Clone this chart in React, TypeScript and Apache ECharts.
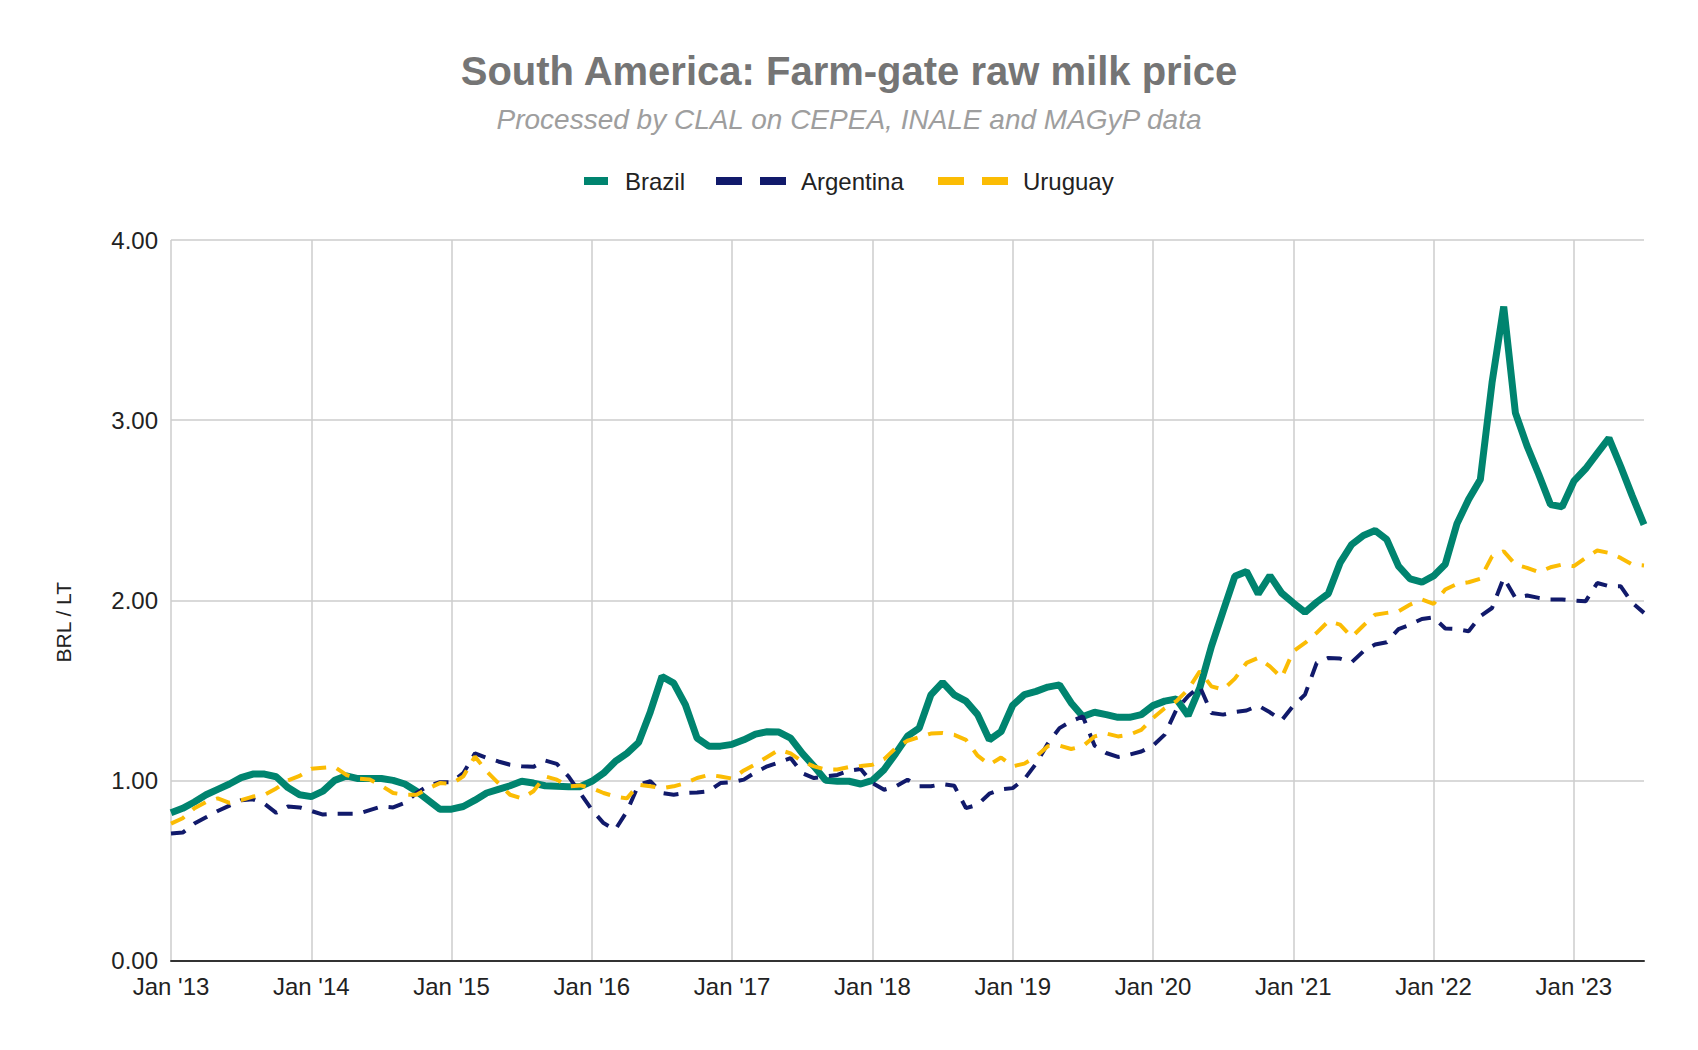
import React, { useEffect, useRef } from "react";
import * as echarts from "echarts";

const monthNames = ["Jan", "Feb", "Mar", "Apr", "May", "Jun", "Jul", "Aug", "Sep", "Oct", "Nov", "Dec"];
const yearLabels = ["13", "14", "15", "16", "17", "18", "19", "20", "21", "22", "23"];
const lastYearMonths = 7;

const categories: string[] = [];
yearLabels.forEach((y, yi) => {
  const n = yi === yearLabels.length - 1 ? lastYearMonths : 12;
  for (let m = 0; m < n; m++) categories.push(`${monthNames[m]} '${y}`);
});

const brazil = [
  0.82, 0.845, 0.88, 0.92, 0.95, 0.98, 1.015, 1.035, 1.035, 1.02, 0.96, 0.92,
  0.91, 0.94, 1.0, 1.025, 1.01, 1.01, 1.01, 1.0, 0.98, 0.94, 0.89, 0.84,
  0.84, 0.855, 0.89, 0.93, 0.95, 0.97, 0.995, 0.985, 0.97, 0.967, 0.965, 0.965,
  0.995, 1.04, 1.105, 1.15, 1.21, 1.38, 1.577, 1.54, 1.42, 1.235, 1.19, 1.19,
  1.2, 1.225, 1.257, 1.27, 1.268, 1.235, 1.15, 1.078, 1.0, 0.995, 0.995, 0.98,
  1.0, 1.06, 1.15, 1.245, 1.29, 1.475, 1.544, 1.475, 1.44, 1.365, 1.225, 1.27,
  1.417, 1.476, 1.494, 1.518, 1.53, 1.43, 1.355, 1.378, 1.365, 1.35, 1.35, 1.365,
  1.415, 1.44, 1.452, 1.36, 1.513, 1.744, 1.94, 2.133, 2.16, 2.035, 2.137, 2.04,
  1.985, 1.933, 1.989, 2.037, 2.207, 2.31, 2.36, 2.387, 2.337, 2.189, 2.118, 2.1,
  2.135, 2.2, 2.425, 2.56, 2.67, 3.207, 3.63, 3.04, 2.856, 2.698, 2.531, 2.519,
  2.661, 2.73, 2.815, 2.9, 2.744, 2.578, 2.42,
];

const argentina = [
  0.705, 0.71, 0.76, 0.795, 0.83, 0.86, 0.89, 0.895, 0.87, 0.82, 0.855, 0.85,
  0.83, 0.81, 0.815, 0.815, 0.815, 0.835, 0.855, 0.85, 0.875, 0.93, 0.97, 0.99,
  0.99, 1.04, 1.15, 1.125, 1.105, 1.087, 1.078, 1.075, 1.11, 1.092, 1.022, 0.93,
  0.837, 0.763, 0.726, 0.828, 0.976, 0.995, 0.93, 0.92, 0.93, 0.933, 0.94, 0.985,
  0.99, 1.004, 1.045, 1.078, 1.1, 1.124, 1.04, 1.013, 1.022, 1.03, 1.054, 1.063,
  0.985, 0.948, 0.967, 1.004, 0.967, 0.967, 0.98, 0.97, 0.846, 0.865, 0.926, 0.95,
  0.957, 1.007, 1.093, 1.204, 1.29, 1.328, 1.355, 1.193, 1.152, 1.13, 1.143, 1.16,
  1.193, 1.254, 1.393, 1.467, 1.522, 1.374, 1.365, 1.38, 1.388, 1.415, 1.378, 1.333,
  1.415, 1.476, 1.652, 1.68, 1.676, 1.656, 1.717, 1.754, 1.767, 1.84, 1.865, 1.896,
  1.905, 1.843, 1.84, 1.828, 1.911, 1.957, 2.124, 2.013, 2.026, 2.013, 2.004, 2.004,
  1.998, 1.994, 2.096, 2.078, 2.078, 1.985, 1.93,
];

const uruguay = [
  0.76, 0.79, 0.845, 0.88, 0.9, 0.875, 0.89, 0.91, 0.92, 0.955, 1.0, 1.025,
  1.065, 1.07, 1.075, 1.03, 1.01, 1.005, 0.97, 0.93, 0.92, 0.92, 0.955, 0.985,
  0.98, 1.022, 1.133, 1.05, 0.985, 0.92, 0.9, 0.94, 1.022, 1.004, 0.967, 0.972,
  0.957, 0.93, 0.91, 0.9, 0.976, 0.967, 0.957, 0.967, 0.985, 1.013, 1.03, 1.022,
  1.01, 1.055, 1.09, 1.13, 1.17, 1.15, 1.105, 1.078, 1.06, 1.06, 1.074, 1.08,
  1.087, 1.118, 1.18, 1.22, 1.24, 1.26, 1.263, 1.253, 1.225, 1.137, 1.087, 1.127,
  1.078, 1.093, 1.133, 1.19, 1.193, 1.174, 1.19, 1.244, 1.26, 1.244, 1.254, 1.28,
  1.346, 1.4, 1.44, 1.504, 1.606, 1.522, 1.504, 1.565, 1.652, 1.68, 1.633, 1.57,
  1.717, 1.763, 1.819, 1.883, 1.865, 1.796, 1.86, 1.92, 1.93, 1.939, 1.976, 2.004,
  1.98, 2.06, 2.09, 2.1, 2.119, 2.244, 2.272, 2.198, 2.18, 2.156, 2.183, 2.198,
  2.189, 2.235, 2.276, 2.263, 2.235, 2.198, 2.193,
];

const seriesNames = ["Brazil", "Argentina", "Uruguay"];
const colors = ["#00846f", "#111a6b", "#fbbc04"];

const FONT = "'Liberation Sans', Arial, sans-serif";
const dashIcon = "path://M0,0H26V8H0Z M44,0H70V8H44Z";

export default function App() {
  const ref = useRef<HTMLDivElement>(null);

  useEffect(() => {
    if (!ref.current) return;
    const chart = echarts.init(ref.current, undefined, { renderer: "svg" });
    const legendText = { fontSize: 24, color: "#222", fontFamily: FONT, lineHeight: 24 };
    chart.setOption({
      animation: false,
      backgroundColor: "#fff",
      title: [
        {
          text: "South America: Farm-gate raw milk price",
          left: "center",
          top: 46,
          textStyle: { fontSize: 40, fontWeight: "bold", color: "#757575", fontFamily: FONT, lineHeight: 40 },
        },
        {
          text: "Processed by CLAL on CEPEA, INALE and MAGyP data",
          left: "center",
          top: 100,
          textStyle: { fontSize: 28, fontWeight: "normal", fontStyle: "italic", color: "#9e9e9e", fontFamily: FONT, lineHeight: 28 },
        },
      ],
      legend: [
        {
          left: 584, top: 169, itemWidth: 24, itemHeight: 8, padding: 0,
          data: [{ name: seriesNames[0], icon: "rect", itemStyle: { color: colors[0], borderWidth: 0 } }],
          textStyle: { ...legendText, padding: [0, 0, 0, 12] },
          selectedMode: false,
        },
        {
          left: 716, top: 169, itemWidth: 70, itemHeight: 8, padding: 0,
          data: [{ name: seriesNames[1], icon: dashIcon, itemStyle: { color: colors[1], borderWidth: 0 } }],
          textStyle: { ...legendText, padding: [0, 0, 0, 10] },
          selectedMode: false,
        },
        {
          left: 938, top: 169, itemWidth: 70, itemHeight: 8, padding: 0,
          data: [{ name: seriesNames[2], icon: dashIcon, itemStyle: { color: colors[2], borderWidth: 0 } }],
          textStyle: { ...legendText, padding: [0, 0, 0, 10] },
          selectedMode: false,
        },
      ],
      grid: { left: 171, right: 54, top: 240, bottom: 89.5, containLabel: false },
      xAxis: {
        type: "category",
        data: categories,
        boundaryGap: false,
        axisLine: { show: true, lineStyle: { color: "#333", width: 2 } },
        axisTick: { show: false },
        axisLabel: { interval: 11, fontSize: 24, color: "#222", fontFamily: FONT, margin: 14 },
        splitLine: { show: true, interval: 11, lineStyle: { color: "#cccccc", width: 1.5 } },
      },
      yAxis: {
        type: "value",
        min: 0,
        max: 4,
        interval: 1,
        name: "BRL / LT",
        nameLocation: "middle",
        nameRotate: 90,
        nameGap: 97,
        nameTextStyle: { fontSize: 21, color: "#222", fontFamily: FONT, padding: [0, 44, 0, 0] },
        axisLine: { show: false },
        axisTick: { show: false },
        axisLabel: { fontSize: 24, color: "#222", fontFamily: FONT, margin: 13, formatter: (v: number) => v.toFixed(2) },
        splitLine: { show: true, lineStyle: { color: "#cccccc", width: 1.5 } },
      },
      series: [
        {
          name: seriesNames[0], type: "line", data: brazil, symbol: "none",
          itemStyle: { color: colors[0] },
          lineStyle: { color: colors[0], width: 7 },
        },
        {
          name: seriesNames[1], type: "line", data: argentina, symbol: "none",
          itemStyle: { color: colors[1] },
          lineStyle: { color: colors[1], width: 4, type: [15, 11] },
        },
        {
          name: seriesNames[2], type: "line", data: uruguay, symbol: "none",
          itemStyle: { color: colors[2] },
          lineStyle: { color: colors[2], width: 4, type: [15, 11] },
        },
      ],
    });
    return () => chart.dispose();
  }, []);

  return <div ref={ref} style={{ position: "fixed", left: 0, top: 0, width: 1698, height: 1050 }} />;
}
